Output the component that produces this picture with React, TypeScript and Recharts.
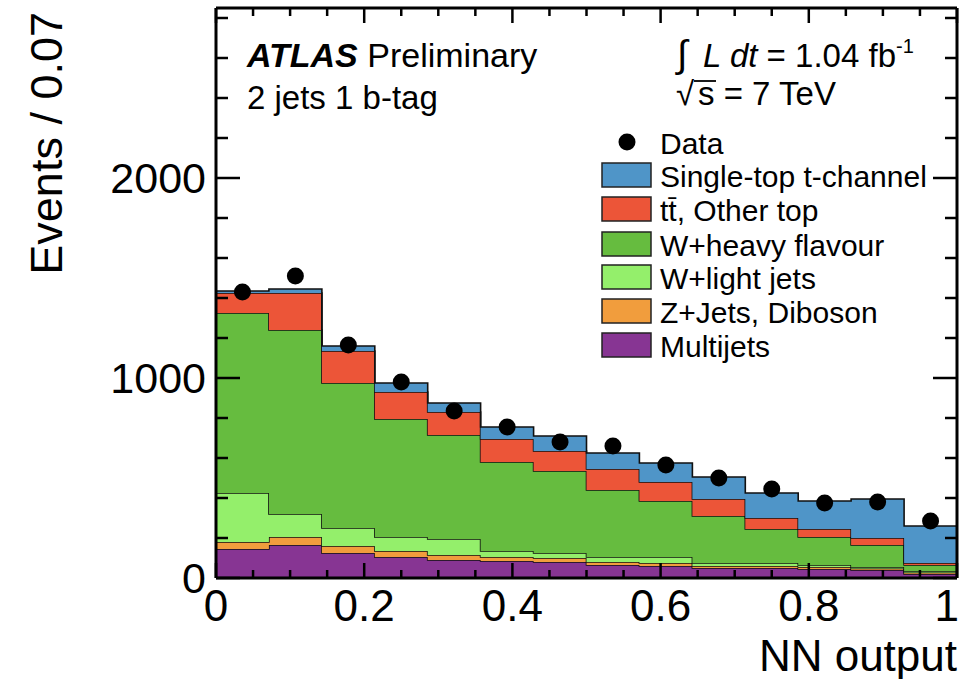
import { ComposedChart, Area, Scatter, XAxis, YAxis } from "recharts";

// NN output bin edges (14 bins of 1/14) and bin centres
const binEdges = [0, 0.0714, 0.1429, 0.2143, 0.2857, 0.3571, 0.4286, 0.5, 0.5714, 0.6429, 0.7143, 0.7857, 0.8571, 0.9286, 1];
const binCentres = [0.0357, 0.1071, 0.1786, 0.25, 0.3214, 0.3929, 0.4643, 0.5357, 0.6071, 0.6786, 0.75, 0.8214, 0.8929, 0.9643];

// stacked backgrounds, bottom to top (events per bin)
const multijets = [145, 165, 125, 105, 90, 85, 80, 65, 60, 50, 50, 45, 40, 20];
const zjetsDiboson = [35, 40, 35, 30, 25, 20, 20, 15, 15, 10, 10, 10, 8, 8];
const wLight = [245, 115, 90, 70, 80, 30, 25, 25, 30, 15, 15, 10, 7, 7];
const wHeavy = [900, 920, 725, 590, 520, 445, 410, 335, 280, 235, 170, 140, 110, 30];
const ttbarOther = [100, 185, 160, 135, 115, 115, 100, 105, 95, 85, 55, 40, 35, 10];
const tChannel = [10, 20, 25, 45, 45, 60, 75, 80, 95, 110, 125, 140, 195, 185];

const dataEvents = [1430, 1510, 1165, 980, 835, 755, 680, 660, 565, 500, 445, 375, 380, 285];

const xTicks = [0, 0.05, 0.1, 0.15, 0.2, 0.25, 0.3, 0.35, 0.4, 0.45, 0.5, 0.55, 0.6, 0.65, 0.7, 0.75, 0.8, 0.85, 0.9, 0.95, 1];
const xMajor = [0, 0.2, 0.4, 0.6, 0.8, 1];
const yTicks = [0, 200, 400, 600, 800, 1000, 1200, 1400, 1600, 1800, 2000, 2200, 2400, 2600, 2800];
const yMajor = [0, 1000, 2000];

const series = [
  { key: "multijets", name: "Multijets", values: multijets, color: "#873593" },
  { key: "zjets", name: "Z+Jets, Diboson", values: zjetsDiboson, color: "#F19D3D" },
  { key: "wlight", name: "W+light jets", values: wLight, color: "#94EF6B" },
  { key: "wheavy", name: "W+heavy flavour", values: wHeavy, color: "#66BC3F" },
  { key: "ttbar", name: "t\u0074\u0304, Other top", values: ttbarOther, color: "#EC5538" },
  { key: "tchan", name: "Single-top t-channel", values: tChannel, color: "#4F95C8" },
];

// last edge repeats the last bin so the step closes at x = 1
const histRows = binEdges.map((x, i) => {
  const k = Math.min(i, binCentres.length - 1);
  const row: Record<string, number> = { x };
  series.forEach((s) => (row[s.key] = s.values[k]));
  return row;
});

const dataRows = binCentres.map((x, i) => ({ x, events: dataEvents[i] }));

const FONT = "'Liberation Sans', Arial, Helvetica, sans-serif";
const TW = 2.5;

const isMajorX = (v: number) => xMajor.some((m) => Math.abs(m - v) < 1e-6);

function BottomTick({ x, y, payload }: any) {
  const major = isMajorX(payload.value);
  const last = payload.value === 1;
  return (
    <g>
      <line x1={x} y1={y} x2={x} y2={y - (major ? 15 : 8)} stroke="#000" strokeWidth={TW} />
      {major && (
        <text
          x={last ? 959 : x}
          y={y + 43}
          textAnchor={last ? "end" : "middle"}
          fontSize={44}
          fontFamily={FONT}
          fill="#000"
        >
          {String(payload.value)}
        </text>
      )}
    </g>
  );
}

function TopTick({ x, y, payload }: any) {
  const major = isMajorX(payload.value);
  return <line x1={x} y1={y} x2={x} y2={y + (major ? 15 : 8)} stroke="#000" strokeWidth={TW} />;
}

function LeftTick({ x, y, payload }: any) {
  const major = yMajor.includes(payload.value);
  return (
    <g>
      <line x1={x} y1={y} x2={x + (major ? 24 : 12)} y2={y} stroke="#000" strokeWidth={TW} />
      {major && (
        <text x={x - 10} y={y} textAnchor="end" dominantBaseline="central" fontSize={43} fontFamily={FONT} fill="#000">
          {payload.value}
        </text>
      )}
    </g>
  );
}

function RightTick({ x, y, payload }: any) {
  const major = yMajor.includes(payload.value);
  return <line x1={x} y1={y} x2={x - (major ? 24 : 12)} y2={y} stroke="#000" strokeWidth={TW} />;
}

const legendBoxesTop = [163, 197, 232, 265, 299, 333];

export default function App() {
  const legendOrder = [...series].reverse();
  return (
    <div style={{ position: "absolute", left: 0, top: 0, width: 960, height: 679, background: "#fff" }}>
      <ComposedChart
        width={960}
        height={679}
        data={histRows}
        margin={{ top: 0, right: 0, bottom: 0, left: 0 }}
      >
        {series.map((s) => (
          <Area
            key={s.key}
            dataKey={s.key}
            stackId="bg"
            type="stepAfter"
            fill={s.color}
            fillOpacity={1}
            stroke="#111"
            strokeWidth={1.6}
            dot={false}
            activeDot={false}
            isAnimationActive={false}
          />
        ))}
        <Scatter
          data={dataRows}
          dataKey="events"
          fill="#000"
          isAnimationActive={false}
          shape={(p: any) => <circle cx={p.cx} cy={p.cy} r={8.5} fill="#000" />}
        />
        <XAxis
          dataKey="x"
          type="number"
          domain={[0, 1]}
          allowDataOverflow
          ticks={xTicks}
          interval={0}
          height={101}
          tickSize={0}
          tickMargin={0}
          tickLine={false}
          axisLine={{ stroke: "#000", strokeWidth: 3 }}
          tick={(p: any) => <BottomTick {...p} />}
        />
        <XAxis
          xAxisId="top"
          orientation="top"
          dataKey="x"
          type="number"
          domain={[0, 1]}
          allowDataOverflow
          ticks={xTicks}
          interval={0}
          height={8}
          tickSize={0}
          tickMargin={0}
          tickLine={false}
          axisLine={{ stroke: "#000", strokeWidth: 3 }}
          tick={(p: any) => <TopTick {...p} />}
        />
        <YAxis
          type="number"
          domain={[0, 2850]}
          allowDataOverflow
          ticks={yTicks}
          interval={0}
          width={216}
          tickSize={0}
          tickMargin={0}
          tickLine={false}
          axisLine={{ stroke: "#000", strokeWidth: 3 }}
          tick={(p: any) => <LeftTick {...p} />}
        />
        <YAxis
          yAxisId="right"
          orientation="right"
          type="number"
          domain={[0, 2850]}
          allowDataOverflow
          ticks={yTicks}
          interval={0}
          width={3}
          tickSize={0}
          tickMargin={0}
          tickLine={false}
          axisLine={{ stroke: "#000", strokeWidth: 3 }}
          tick={(p: any) => <RightTick {...p} />}
        />
      </ComposedChart>

      <svg
        width={960}
        height={679}
        style={{ position: "absolute", left: 0, top: 0, pointerEvents: "none" }}
        fontFamily={FONT}
      >
        <text x={62} y={12} transform="rotate(-90, 62, 12)" textAnchor="end" fontSize={45} fill="#000">
          Events / 0.07
        </text>
        <text x={957} y={671} textAnchor="end" fontSize={44} fill="#000">
          NN output
        </text>

        <text x={247} y={67} fontSize={34} fill="#000">
          <tspan fontWeight="bold" fontStyle="italic">ATLAS</tspan> Preliminary
        </text>
        <text x={247} y={109} fontSize={33} fill="#000">
          2 jets 1 b-tag
        </text>
        <text x={677} y={67} fontSize={38} fill="#000">
          ∫
        </text>
        <text y={67} fontSize={33} fill="#000">
          <tspan x={703} fontStyle="italic">L dt</tspan>
          <tspan> = 1.04 fb</tspan>
          <tspan fontSize={20} dy={-14}>-1</tspan>
        </text>
        <text y={105} fontSize={33} fill="#000">
          <tspan x={676}>√</tspan>
          <tspan x={698}>s</tspan>
          <tspan> = 7 TeV</tspan>
        </text>
        <line x1={694} y1={81} x2={716} y2={81} stroke="#000" strokeWidth={1.8} />

        <circle cx={627} cy={142} r={8.5} fill="#000" />
        <text x={660} y={143} fontSize={30} dominantBaseline="central" fill="#000">
          Data
        </text>
        {legendOrder.map((s, i) => (
          <g key={s.key}>
            <rect x={602} y={legendBoxesTop[i]} width={49} height={24} fill={s.color} stroke="#222" strokeWidth={1.5} />
            <text x={660} y={legendBoxesTop[i] + 13} fontSize={30} dominantBaseline="central" fill="#000">
              {s.name}
            </text>
          </g>
        ))}
      </svg>
    </div>
  );
}
